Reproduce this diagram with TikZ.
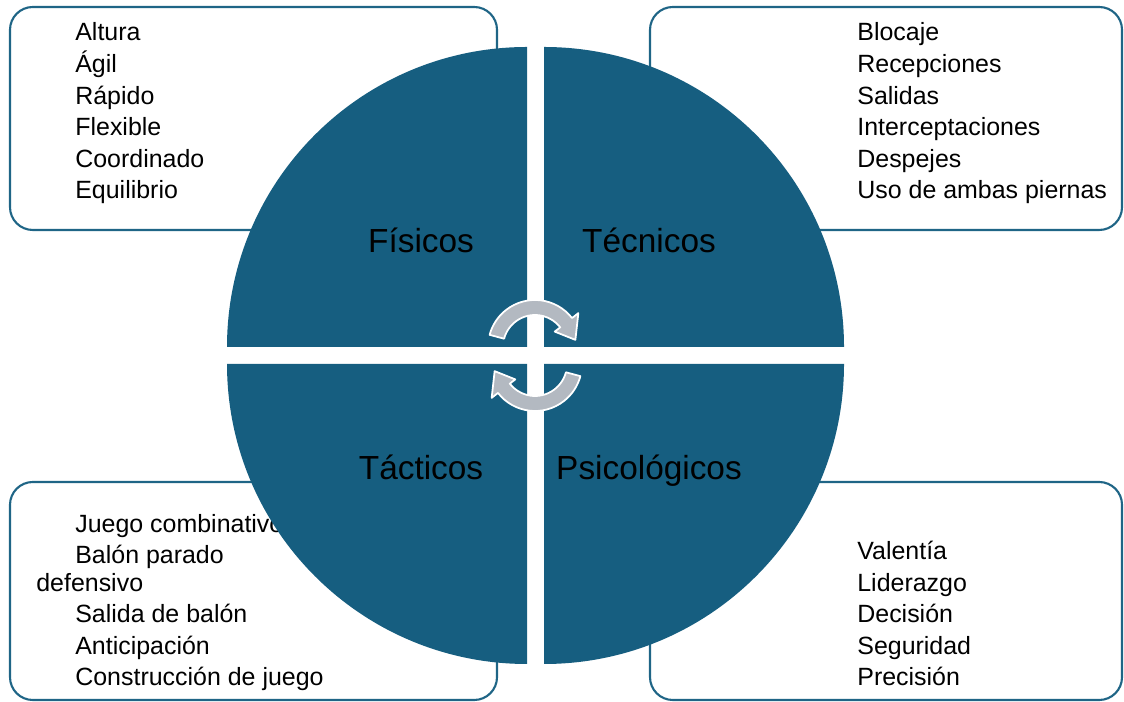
\documentclass[tikz,border=0pt]{standalone}
\usepackage{fontspec}
\setmainfont{Liberation Sans}
\definecolor{quadblue}{HTML}{165E80}
\definecolor{boxblue}{HTML}{1F6586}
\definecolor{cycgray}{HTML}{B3B9C1}
\tikzset{
	quad/.style = {fill=quadblue},
	box/.style = {draw=boxblue, line width=1.2pt, rounded corners=13pt, fill=white},
	item/.style = {anchor=base west, inner sep=0, font=\fontsize{14.2pt}{17pt}\selectfont},
	label/.style = {anchor=base, inner sep=0, font=\fontsize{19pt}{23pt}\selectfont},
	cyc/.style = {fill=cycgray, draw=white, line width=1pt, line join=round}
}
\begin{document}
\begin{tikzpicture}[x=0.02cm, y=0.02cm]
		\useasboundingbox (0,0) rectangle (1124,702);
		
		% corner boxes
		\draw [box] (10,472) rectangle (497,695);
		\draw [box] (650,472) rectangle (1122,695);
		\draw [box] (10,2) rectangle (497,220);
		\draw [box] (650,2) rectangle (1122,220);
		
		\foreach \y/\t [count=\i] in {661/Altura, 629.4/Ágil, 597.8/Rápido, 566.2/Flexible, 534.6/Coordinado, 503/Equilibrio}
			\node (fis\i) at (75,\y) [item] {\t};
		\foreach \y/\t [count=\i] in {661/Blocaje, 629.4/Recepciones, 597.8/Salidas, 566.2/Interceptaciones, 534.6/Despejes, 503/Uso de ambas piernas}
			\node (tec\i) at (857,\y) [item] {\t};
		\foreach \x/\y/\t [count=\i] in {75/169/Juego combinativo, 75/138/Balón parado, 36/110/defensivo, 75/79/Salida de balón, 75/47/Anticipación, 75/16/Construcción de juego}
			\node (tac\i) at (\x,\y) [item] {\t};
		\foreach \y/\t [count=\i] in {142/Valentía, 110.4/Liderazgo, 79/Decisión, 47/Seguridad, 16/Precisión}
			\node (psi\i) at (857,\y) [item] {\t};
		
		% quarter circles
		\fill [quad] (527,355) -- ++(-300,0) arc [start angle=180, end angle=90, radius=300] -- cycle;
		\fill [quad] (544,355) -- ++(0,300) arc [start angle=90, end angle=0, radius=300] -- cycle;
		\fill [quad] (527,338) -- ++(0,-300) arc [start angle=270, end angle=180, radius=300] -- cycle;
		\fill [quad] (544,338) -- ++(300,0) arc [start angle=0, end angle=-90, radius=300] -- cycle;
		
		\node (Fis) at (421,449) [label] {Físicos};
		\node (Tec) at (649,449) [label] {Técnicos};
		\node (Tac) at (421,222) [label] {Tácticos};
		\node (Psi) at (649,222) [label] {Psicológicos};
		
		% cycle arrows
		\begin{scope}[shift={(535,355)}]
			\filldraw [cyc] (165:32) arc [start angle=165, end angle=38, radius=32] -- (38:25) -- (10:41) -- (38:55) -- (38:47) arc [start angle=38, end angle=165, radius=47] -- cycle;
		\end{scope}
		\begin{scope}[shift={(535,338)}, rotate=180]
			\filldraw [cyc] (165:32) arc [start angle=165, end angle=38, radius=32] -- (38:25) -- (10:41) -- (38:55) -- (38:47) arc [start angle=38, end angle=165, radius=47] -- cycle;
		\end{scope}
\end{tikzpicture}
\end{document}
